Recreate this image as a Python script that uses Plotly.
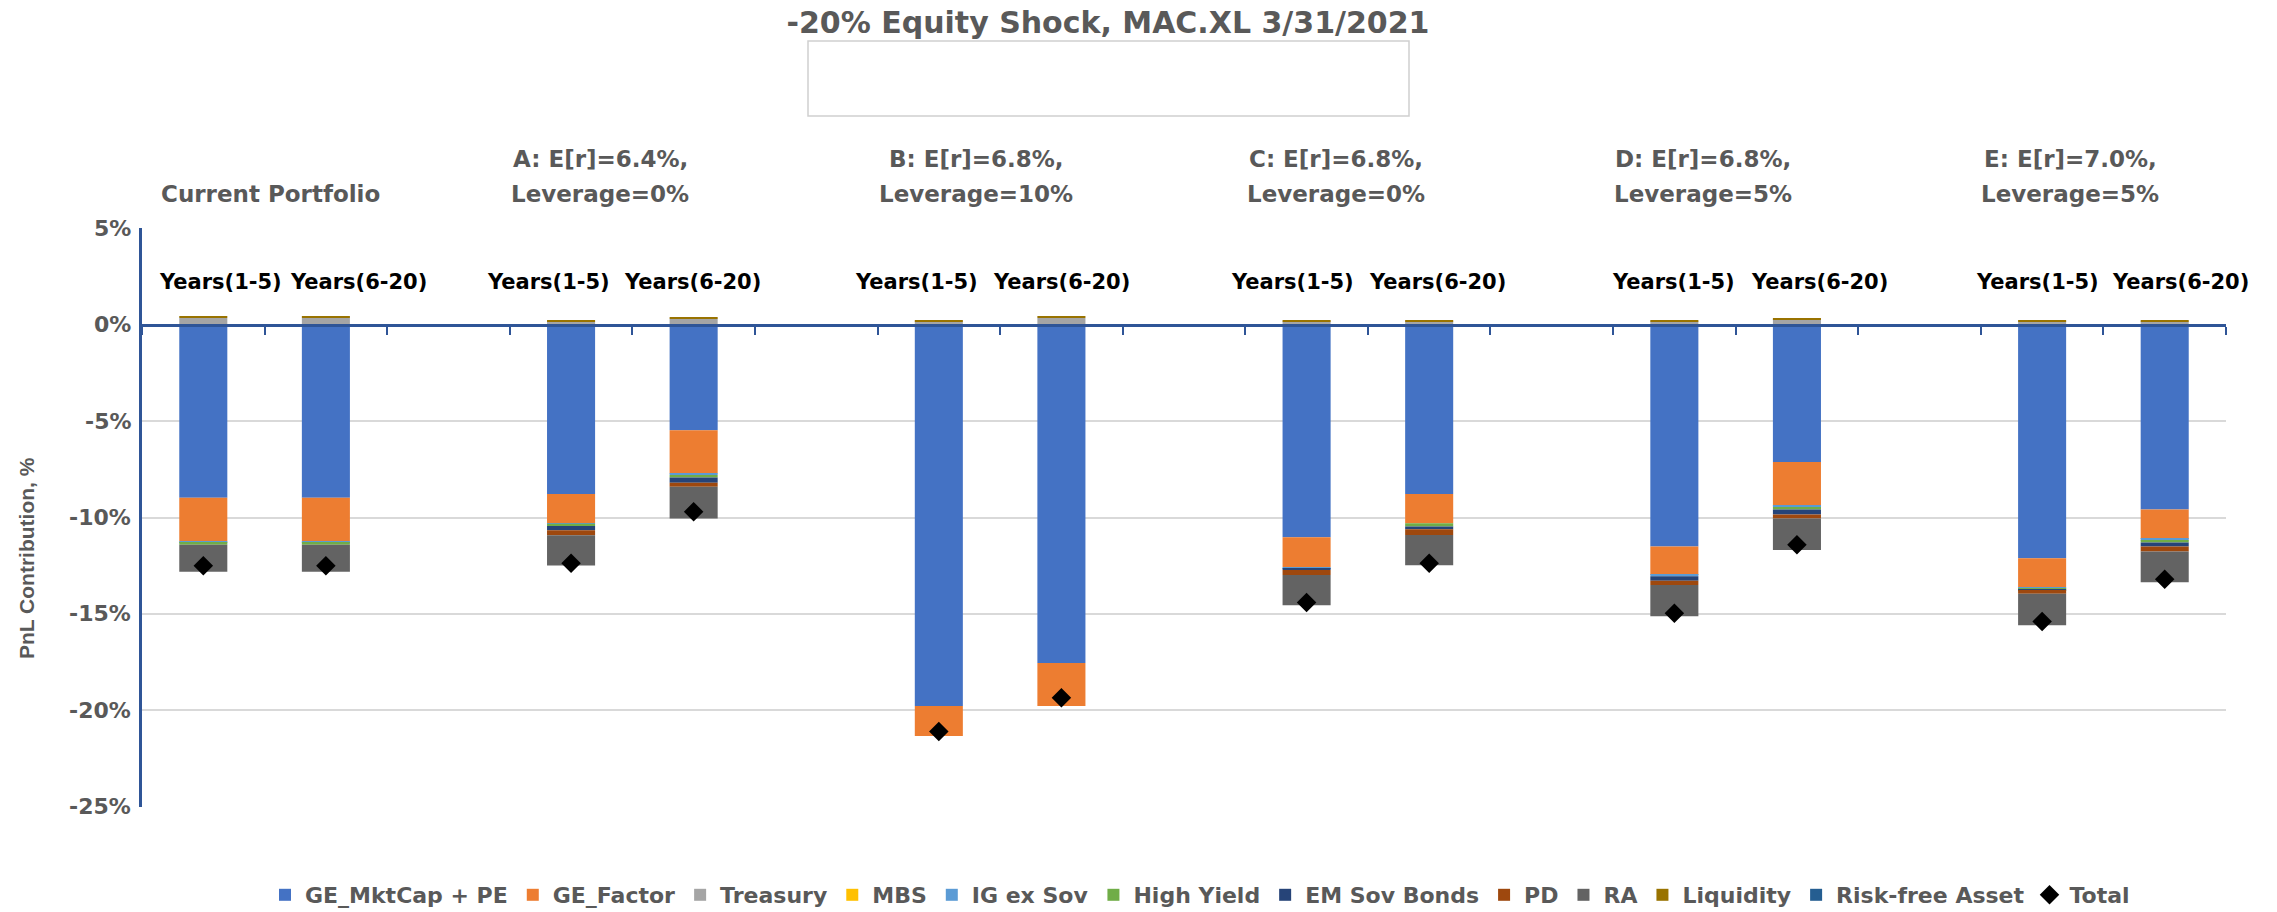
import plotly.graph_objects as go

# ---------------- data ----------------
categories = ["Current Years(1-5)", "Current Years(6-20)", " ",
              "A Years(1-5)", "A Years(6-20)", "  ",
              "B Years(1-5)", "B Years(6-20)", "   ",
              "C Years(1-5)", "C Years(6-20)", "    ",
              "D Years(1-5)", "D Years(6-20)", "     ",
              "E Years(1-5)", "E Years(6-20)"]
N = None
ge_mktcap = [-8.97, -8.97, N, -8.78, -5.47, N, -19.79, -17.55, N, -11.03, -8.78, N, -11.51, -7.12, N, -12.11, -9.58]
ge_factor = [-2.28, -2.28, N, -1.52, -2.24, N, -1.55, -2.24, N, -1.55, -1.52, N, -1.47, -2.27, N, -1.53, -1.53]
treasury = [0.36, 0.36, N, 0.17, 0.32, N, 0.17, 0.36, N, 0.17, 0.17, N, 0.17, 0.29, N, 0.17, 0.17]
mbs = [0, 0, N, 0, 0, N, 0, 0, N, 0, 0, N, 0, 0, N, 0, 0]
ig_ex_sov = [-0.06, -0.06, N, -0.02, -0.09, N, 0, 0, N, -0.07, 0, N, -0.07, -0.07, N, -0.03, -0.09]
high_yield = [-0.10, -0.10, N, -0.12, -0.12, N, 0, 0, N, 0, -0.17, N, 0, -0.12, N, -0.05, -0.10]
em_sov_bonds = [0, 0, N, -0.22, -0.28, N, 0, 0, N, -0.07, -0.14, N, -0.24, -0.26, N, -0.05, -0.21]
pd_vals = [0, 0, N, -0.26, -0.21, N, 0, 0, N, -0.26, -0.30, N, -0.22, -0.21, N, -0.19, -0.26]
ra = [-1.41, -1.41, N, -1.57, -1.64, N, 0, 0, N, -1.57, -1.57, N, -1.62, -1.64, N, -1.64, -1.59]
liquidity = [0.07, 0.07, N, 0.07, 0.07, N, 0.07, 0.07, N, 0.07, 0.07, N, 0.07, 0.06, N, 0.07, 0.07]
risk_free = [0, 0, N, 0, 0, N, 0, 0, N, 0, 0, N, 0, 0, N, 0, 0]
total = [-12.50, -12.50, N, -12.37, -9.70, N, -21.11, -19.36, N, -14.41, -12.37, N, -14.97, -11.42, N, -15.40, -13.20]

series_names = ["GE_MktCap + PE", "GE_Factor", "Treasury", "MBS", "IG ex Sov", "High Yield",
                "EM Sov Bonds", "PD", "RA", "Liquidity", "Risk-free Asset"]
series_values = [ge_mktcap, ge_factor, treasury, mbs, ig_ex_sov, high_yield,
                 em_sov_bonds, pd_vals, ra, liquidity, risk_free]
series_colors = ["#4472C4", "#ED7D31", "#A5A5A5", "#FFC000", "#5B9BD5", "#70AD47",
                 "#264478", "#9E480E", "#636363", "#997300", "#255E91"]

title_text = "-20% Equity Shock, MAC.XL 3/31/2021"
group_line1 = ["", "A: E[r]=6.4%,", "B: E[r]=6.8%,", "C: E[r]=6.8%,", "D: E[r]=6.8%,", "E: E[r]=7.0%,"]
group_line2 = ["Current Portfolio", "Leverage=0%", "Leverage=10%", "Leverage=0%", "Leverage=5%", "Leverage=5%"]
period_labels = ["Years(1-5)", "Years(6-20)"] * 6
y_tickvals = [5, 0, -5, -10, -15, -20, -25]
y_ticktext = ["5%", "0%", "-5%", "-10%", "-15%", "-20%", "-25%"]

# ---------------- layout geometry (pixels) ----------------
W, H = 2277, 912
L, R, T, B = 142, 2226, 228, 807
PW, PH = R - L, B - T


def px_x(px):
    return (px - L) / PW


def px_y(py):
    return (B - py) / PH


group_label_x = [270, 600, 976, 1336, 1703, 2070]
period_label_x = [220, 358, 548, 692, 916, 1061, 1292, 1437, 1673, 1819, 2037, 2180]

GRAY = "#595959"
AXIS_BLUE = "#2F5597"
FONT = "DejaVu Sans"

fig = go.Figure()
for name, vals, col in zip(series_names, series_values, series_colors):
    fig.add_trace(go.Bar(x=categories, y=vals, name=name,
                         marker=dict(color=col, line=dict(width=0))))

fig.add_trace(go.Scatter(x=categories, y=total, name="Total", mode="markers",
                         marker=dict(symbol="diamond", size=15, color="black")))

annotations = []
for gx, l1, l2 in zip(group_label_x, group_line1, group_line2):
    if l1:
        annotations.append(dict(text=f"<b>{l1}</b>", x=px_x(gx), y=px_y(159), xref="paper", yref="paper",
                                showarrow=False, xanchor="center", yanchor="middle",
                                font=dict(family=FONT, size=23, color=GRAY)))
    annotations.append(dict(text=f"<b>{l2}</b>", x=px_x(gx), y=px_y(194), xref="paper", yref="paper",
                            showarrow=False, xanchor="center", yanchor="middle",
                            font=dict(family=FONT, size=23, color=GRAY)))
for lx, lab in zip(period_label_x, period_labels):
    annotations.append(dict(text=f"<b>{lab}</b>", x=px_x(lx), y=px_y(282), xref="paper", yref="paper",
                            showarrow=False, xanchor="center", yanchor="middle",
                            font=dict(family=FONT, size=21, color="black")))
# y-axis tick labels, placed on the y scale
for tv, tt in zip(y_tickvals, y_ticktext):
    annotations.append(dict(text=f"<b>{tt}</b>", x=px_x(133), y=tv, xref="paper", yref="y",
                            showarrow=False, xanchor="right", yanchor="middle",
                            font=dict(family=FONT, size=22, color=GRAY)))
annotations.append(dict(text="<b>PnL Contribution, %</b>", textangle=-90, x=px_x(26), y=px_y(558),
                        xref="paper", yref="paper", showarrow=False, xanchor="center", yanchor="middle",
                        font=dict(family="Liberation Sans", size=21, color=GRAY)))

shapes = [dict(type="rect", xref="paper", yref="paper",
               x0=px_x(808), x1=px_x(1409), y0=px_y(116), y1=px_y(41),
               line=dict(color="#D0D0D0", width=1.5), fillcolor="rgba(0,0,0,0)")]

fig.update_layout(
    width=W, height=H,
    margin=dict(l=L, r=W - R, t=T, b=H - B, pad=0, autoexpand=False),
    paper_bgcolor="white", plot_bgcolor="white",
    barmode="relative", bargap=0.608,
    title=dict(text=f"<b>{title_text}</b>", x=1108 / W, xanchor="center", xref="container",
               y=1 - 22 / H, yanchor="middle", yref="container",
               font=dict(family=FONT, size=30, color=GRAY)),
    xaxis=dict(type="category", categoryorder="array", categoryarray=categories,
               range=[-0.5, len(categories) - 0.5],
               showticklabels=False, showgrid=False, zeroline=False,
               showline=True, linecolor=AXIS_BLUE, linewidth=2.5,
               ticks="outside", tickson="boundaries", ticklen=8, tickwidth=2, tickcolor=AXIS_BLUE,
               anchor="free", position=25.03 / 30.06),
    yaxis=dict(range=[-25.03, 5.03], tickvals=y_tickvals, ticktext=y_ticktext,
               showticklabels=False,
               showgrid=True, gridcolor="#D9D9D9", gridwidth=2, zeroline=False,
               showline=True, linecolor=AXIS_BLUE, linewidth=2.5, ticks=""),
    showlegend=True,
    legend=dict(orientation="h", x=px_x(1200), xanchor="center", y=px_y(895), yanchor="middle",
                font=dict(family=FONT, size=22, color=GRAY, weight="bold"), traceorder="normal",
                bgcolor="rgba(0,0,0,0)"),
    annotations=annotations, shapes=shapes,
)

fig.write_html("out.html", config={"displayModeBar": False},
               post_script="document.body.style.margin='0';document.body.style.padding='0';")
